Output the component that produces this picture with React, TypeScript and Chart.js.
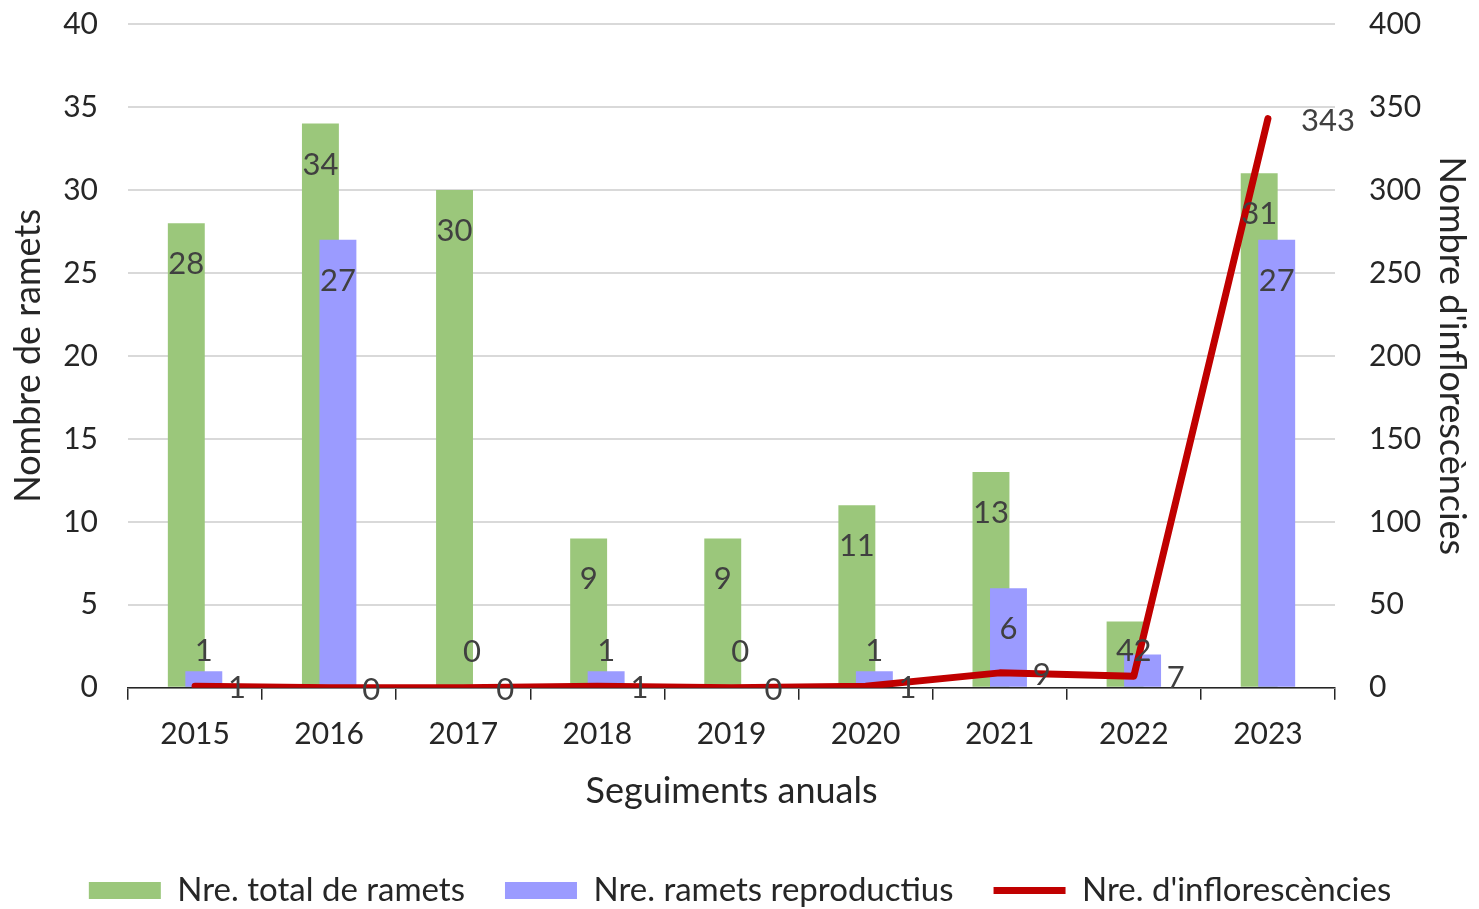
import React, { useEffect, useRef } from "react";
import { Chart, registerables } from "chart.js";

Chart.register(...registerables);

const years = ["2015", "2016", "2017", "2018", "2019", "2020", "2021", "2022", "2023"];
const totalRamets = [28, 34, 30, 9, 9, 11, 13, 4, 31];
const reproRamets = [1, 27, 0, 1, 0, 1, 6, 2, 27];
const inflorescences = [1, 0, 0, 1, 0, 1, 9, 7, 343];

const FONT = "Lato";

const labelPlugin = {
  id: "valueLabels",
  beforeDatasetDraw(chart: any, args: any) {
    if (args.index === 1) return false;
  },
  afterDatasetDraw(chart: any, args: any) {
    if (args.index === 0) {
      chart.getDatasetMeta(1).controller.draw();
    }
  },
  afterDatasetsDraw(chart: any) {
    const ctx = chart.ctx;
    ctx.save();
    ctx.font = `31px ${FONT}`;
    ctx.fillStyle = "#404040";
    chart.data.datasets.forEach((ds: any, di: number) => {
      const meta = chart.getDatasetMeta(di);
      meta.data.forEach((el: any, i: number) => {
        const v = ds.data[i];
        if (ds.type === "line") {
          ctx.textAlign = "left";
          ctx.textBaseline = "middle";
          ctx.fillText(String(v), el.x + 33, el.y + 2);
        } else {
          ctx.textAlign = "center";
          ctx.textBaseline = "middle";
          const y = Math.min(el.y + 41, el.base - 36);
          ctx.fillText(String(v), el.x, y);
        }
      });
    });
    ctx.restore();
  },
};

export default function App() {
  const ref = useRef<HTMLCanvasElement>(null);
  useEffect(() => {
    document.body.style.margin = "0";
    const chart = new Chart(ref.current!, {
      type: "bar",
      data: {
        labels: years,
        datasets: [
          {
            type: "bar",
            label: "Nre. total de ramets",
            data: totalRamets,
            backgroundColor: "#9BC77B",
            yAxisID: "y",
            order: 1,
            pointStyle: "rect",
            categoryPercentage: 0.261,
            barPercentage: 2.11,
          } as any,
          {
            type: "bar",
            label: "Nre. ramets reproductius",
            data: reproRamets,
            backgroundColor: "#9B9BFF",
            yAxisID: "y",
            order: 2,
            pointStyle: "rect",
            categoryPercentage: 0.261,
            barPercentage: 2.11,
          } as any,
          {
            type: "line",
            label: "Nre. d'inflorescències",
            data: inflorescences,
            borderColor: "#C00000",
            backgroundColor: "#C00000",
            borderWidth: 7,
            borderCapStyle: "round",
            borderJoinStyle: "round",
            pointRadius: 0,
            pointHoverRadius: 0,
            pointStyle: "line",
            yAxisID: "y1",
            order: 0,
            tension: 0,
          } as any,
        ],
      },
      options: {
        animation: false,
        responsive: false,
        maintainAspectRatio: false,
        layout: { padding: { left: 3, right: 2, top: 24, bottom: -8 } },
        plugins: {
          tooltip: { enabled: false },
          legend: {
            position: "bottom",
            labels: {
              usePointStyle: true,
              pointStyleWidth: 72,
              boxHeight: 17,
              padding: 40,
              color: "#262626",
              font: { family: FONT, size: 33 },
              sort: (a: any, b: any) => a.datasetIndex - b.datasetIndex,
            },
          },
        },
        scales: {
          x: {
            offset: true,
            grid: {
              offset: true,
              drawOnChartArea: false,
              drawTicks: true,
              tickLength: 12,
              color: "#262626",
              lineWidth: 1.5,
            },
            border: { display: true, color: "#262626", width: 1.5 },
            ticks: { color: "#262626", font: { family: FONT, size: 30 }, padding: 17 },
            title: {
              display: true,
              text: "Seguiments anuals",
              color: "#262626",
              font: { family: FONT, size: 36 },
              padding: { top: 0, bottom: 21 },
            },
          },
          y: {
            position: "left",
            min: 0,
            max: 40,
            ticks: { stepSize: 5, color: "#262626", font: { family: FONT, size: 30 }, padding: 0 },
            grid: {
              color: "#D9D9D9",
              lineWidth: 2,
              drawTicks: true,
              tickLength: 30,
              tickColor: "rgba(0,0,0,0)",
            },
            border: { display: false },
            title: {
              display: true,
              text: "Nombre de ramets",
              color: "#262626",
              font: { family: FONT, size: 36 },
              padding: { top: 4, bottom: 0 },
            },
            afterFit: (scale: any) => {
              scale.width = 125;
            },
          },
          y1: {
            position: "right",
            min: 0,
            max: 400,
            ticks: { stepSize: 50, color: "#262626", font: { family: FONT, size: 30 }, padding: 0 },
            grid: { display: false, drawTicks: true, tickLength: 34 },
            border: { display: false },
            title: {
              display: true,
              text: "Nombre d'inflorescències",
              color: "#262626",
              font: { family: FONT, size: 36 },
              padding: { top: 4, bottom: 0 },
            },
            afterFit: (scale: any) => {
              scale.width = 142;
            },
          },
        },
      },
      plugins: [labelPlugin],
    });
    return () => chart.destroy();
  }, []);
  return (
    <div style={{ width: 1479, height: 909 }}>
      <canvas ref={ref} width={1479} height={909} style={{ width: 1479, height: 909 }} />
    </div>
  );
}
